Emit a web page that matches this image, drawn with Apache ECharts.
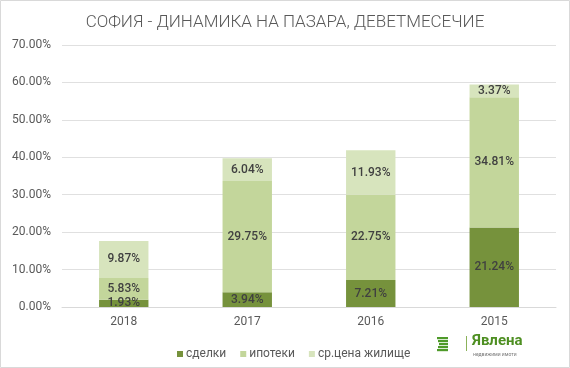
<!DOCTYPE html>
<html><head><meta charset="utf-8">
<script src="https://cdn.jsdelivr.net/npm/echarts@6/dist/echarts.min.js"></script>
<style>html,body{margin:0;padding:0;background:#fff}#c{width:570px;height:368px}</style>
</head><body><div id="c"></div>
<script>
const categories = ['2018', '2017', '2016', '2015'];
const deals = [1.93, 3.94, 7.21, 21.24];
const mortgages = [5.83, 29.75, 22.75, 34.81];
const avgPrice = [9.87, 6.04, 11.93, 3.37];
const seriesNames = ['сделки', 'ипотеки', 'ср.цена жилище'];
const colors = ['#76923c', '#c3d69b', '#d7e4bd'];

const chart = echarts.init(document.getElementById('c'), null, {renderer: 'canvas'});
const font = 'Roboto';
function mk(name, data, color) {
  return {
    name: name, type: 'bar', stack: 'a', data: data, barWidth: '40%',
    itemStyle: {color: color},
    label: {show: true, position: 'inside', formatter: p => p.value.toFixed(2) + '%',
      color: '#404040', fontFamily: font, fontSize: 12, fontWeight: 500}
  };
}
chart.setOption({
  animation: false,
  textStyle: {fontFamily: font},
  title: {text: 'СОФИЯ - ДИНАМИКА НА ПАЗАРА, ДЕВЕТМЕСЕЧИЕ', left: 'center', top: 9,
    textStyle: {fontFamily: font, fontWeight: 300, fontSize: 17, color: '#595959'}},
  grid: {left: 62, right: 14, top: 45, bottom: 61, containLabel: false},
  legend: {left: 172, top: 343, itemWidth: 6, itemHeight: 6, itemGap: 14, icon: 'rect',
    textStyle: {fontFamily: font, fontSize: 12, color: '#595959', padding: [0,0,0,-2]},
    data: seriesNames},
  xAxis: {type: 'category', data: categories,
    axisLine: {lineStyle: {color: '#d9d9d9'}}, axisTick: {show: false},
    axisLabel: {color: '#595959', fontSize: 12, fontFamily: font, margin: 9}},
  yAxis: {type: 'value', min: 0, max: 70, interval: 10,
    axisLabel: {formatter: v => v.toFixed(2) + '%', color: '#595959', fontSize: 12, fontFamily: font, margin: 11},
    splitLine: {lineStyle: {color: '#e0e0e0'}}},
  series: [mk(seriesNames[0], deals, colors[0]), mk(seriesNames[1], mortgages, colors[1]), mk(seriesNames[2], avgPrice, colors[2])],
  graphic: [
    {type: 'rect', shape: {x: 0.5, y: 0.5, width: 569, height: 367}, style: {fill: null, stroke: '#d9d9d9', lineWidth: 1}, silent: true},
    {type: 'group', left: 437, top: 337, children: [
      {type: 'rect', shape: {x: 0, y: 0, width: 11, height: 2.2}, style: {fill: '#4f9a2a'}},
      {type: 'rect', shape: {x: 1, y: 3, width: 10, height: 2.2}, style: {fill: '#4f9a2a'}},
      {type: 'rect', shape: {x: 2, y: 6, width: 9, height: 2.2}, style: {fill: '#4f9a2a'}},
      {type: 'rect', shape: {x: 1, y: 9, width: 10, height: 2.2}, style: {fill: '#4f9a2a'}},
      {type: 'rect', shape: {x: 0, y: 12, width: 11, height: 2.2}, style: {fill: '#4f9a2a'}}
    ]},
    {type: 'rect', shape: {x: 466, y: 336, width: 1, height: 15}, style: {fill: '#8bb25a'}},
    {type: 'text', left: 472, top: 334, style: {text: 'Явлена', fill: '#4e8f22', font: 'bold 15px Roboto'}},
    {type: 'text', left: 473, top: 352, style: {text: 'недвижими имоти', fill: '#777', font: '5px Roboto'}}
  ]
});
</script></body></html>
